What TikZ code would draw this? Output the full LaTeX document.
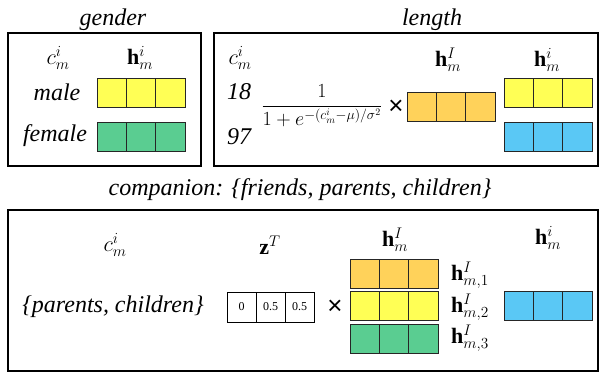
\RequirePackage{fix-cm}
\documentclass[tikz,border=0pt]{standalone}
\usepackage{amsmath}
\usepackage{fontspec}
\setmainfont{Liberation Serif}
\newfontfamily\crossfont{Liberation Sans}
\usetikzlibrary{positioning}

\definecolor{cellyellow}{RGB}{255,255,85}
\definecolor{cellgreen}{RGB}{90,205,145}
\definecolor{cellorange}{RGB}{255,210,90}
\definecolor{cellblue}{RGB}{90,200,245}

\tikzset{
  panel/.style={draw, line width=1.4pt},
  cell/.style={draw=black!85, line width=0.9pt, minimum width=29.3pt,
    minimum height=29pt, inner sep=0pt, outer sep=0pt},
  zcell/.style={draw, line width=0.6pt, minimum width=29pt,
    minimum height=30pt, inner sep=0pt, outer sep=0pt, font=\fontsize{12}{14}\selectfont},
  lbl/.style={inner sep=0pt, font=\fontsize{24}{28}\selectfont\itshape},
  title/.style={inner sep=0pt, font=\fontsize{24}{28}\selectfont\itshape},
  sym/.style={inner sep=0pt, font=\fontsize{22}{26}\selectfont},
  times/.style={inner sep=0pt, font=\fontsize{26}{28}\crossfont}
}

% trois cases d'un vecteur : nom, x gauche, y haut, couleur
\newcommand{\vecrow}[4]{%
  \foreach \k in {1,2,3}
    \node[cell, fill=#4] (#1\k) at ({#2+29.33*\k-14.67},{#3+14.5}) {};
}

\begin{document}
\begin{tikzpicture}[x=1pt,y=-1pt]
\useasboundingbox (0,0) rectangle (600,373);

% Cadre gender
\draw[panel] (8,33) rectangle (201,166);
\node[title] (gtitle) at (113,20) {gender};
\node[sym] (gc) at (58,58) {$c_m^i$};
\node[sym] (gh) at (140,58) {$\mathbf{h}_m^i$};
\node[lbl] (male) at (57,92) {male};
\node[lbl] (female) at (55,136) {female};
\vecrow{gy}{97}{78}{cellyellow}
\vecrow{gg}{97}{122}{cellgreen}

% Cadre length
\draw[panel] (214,33) rectangle (598,166);
\node[title] (ltitle) at (432,20) {length};
\node[sym] (lc) at (240,58) {$c_m^i$};
\node[sym] (lhI) at (448,60) {$\mathbf{h}_m^I$};
\node[sym] (lhi) at (547,60) {$\mathbf{h}_m^i$};
\node[lbl] (n18) at (239,92) {18};
\node[lbl] (n97) at (239,137) {97};
\node[inner sep=0pt, font=\fontsize{20}{24}\selectfont] (frac) at (322,106)
  {$\dfrac{1}{1+e^{-(c_m^i-\mu)/\sigma^2}}$};
\node[times] (lx) at (396,107) {×};
\vecrow{lo}{407}{92}{cellorange}
\vecrow{ly}{504}{78}{cellyellow}
\vecrow{lb}{504}{122}{cellblue}

% Cadre companion
\node[title] (ctitle) at (300,190) {companion: \{friends, parents, children\}};
\draw[panel] (8,210) rectangle (598,371);
\node[sym] (cc) at (115,245) {$c_m^i$};
\node[sym] (cz) at (270,245) {$\mathbf{z}^T$};
\node[sym] (chI) at (395,240) {$\mathbf{h}_m^I$};
\node[sym] (chi) at (548,238) {$\mathbf{h}_m^i$};
\node[lbl] (cval) at (113,307) {\{parents, children\}};
\node[zcell] (z1) at (241.5,307) {0};
\node[zcell, right=0pt of z1] (z2) {0.5};
\node[zcell, right=0pt of z2] (z3) {0.5};
\node[times] (cx) at (335,307) {×};
\vecrow{co}{350}{259}{cellorange}
\vecrow{cy}{350}{291}{cellyellow}
\vecrow{cg}{350}{324}{cellgreen}
\node[sym] (ch1) at (470,275) {$\mathbf{h}_{m,1}^I$};
\node[sym] (ch2) at (470,307) {$\mathbf{h}_{m,2}^I$};
\node[sym] (ch3) at (470,338) {$\mathbf{h}_{m,3}^I$};
\vecrow{cb}{504}{291}{cellblue}

\end{tikzpicture}
\end{document}
